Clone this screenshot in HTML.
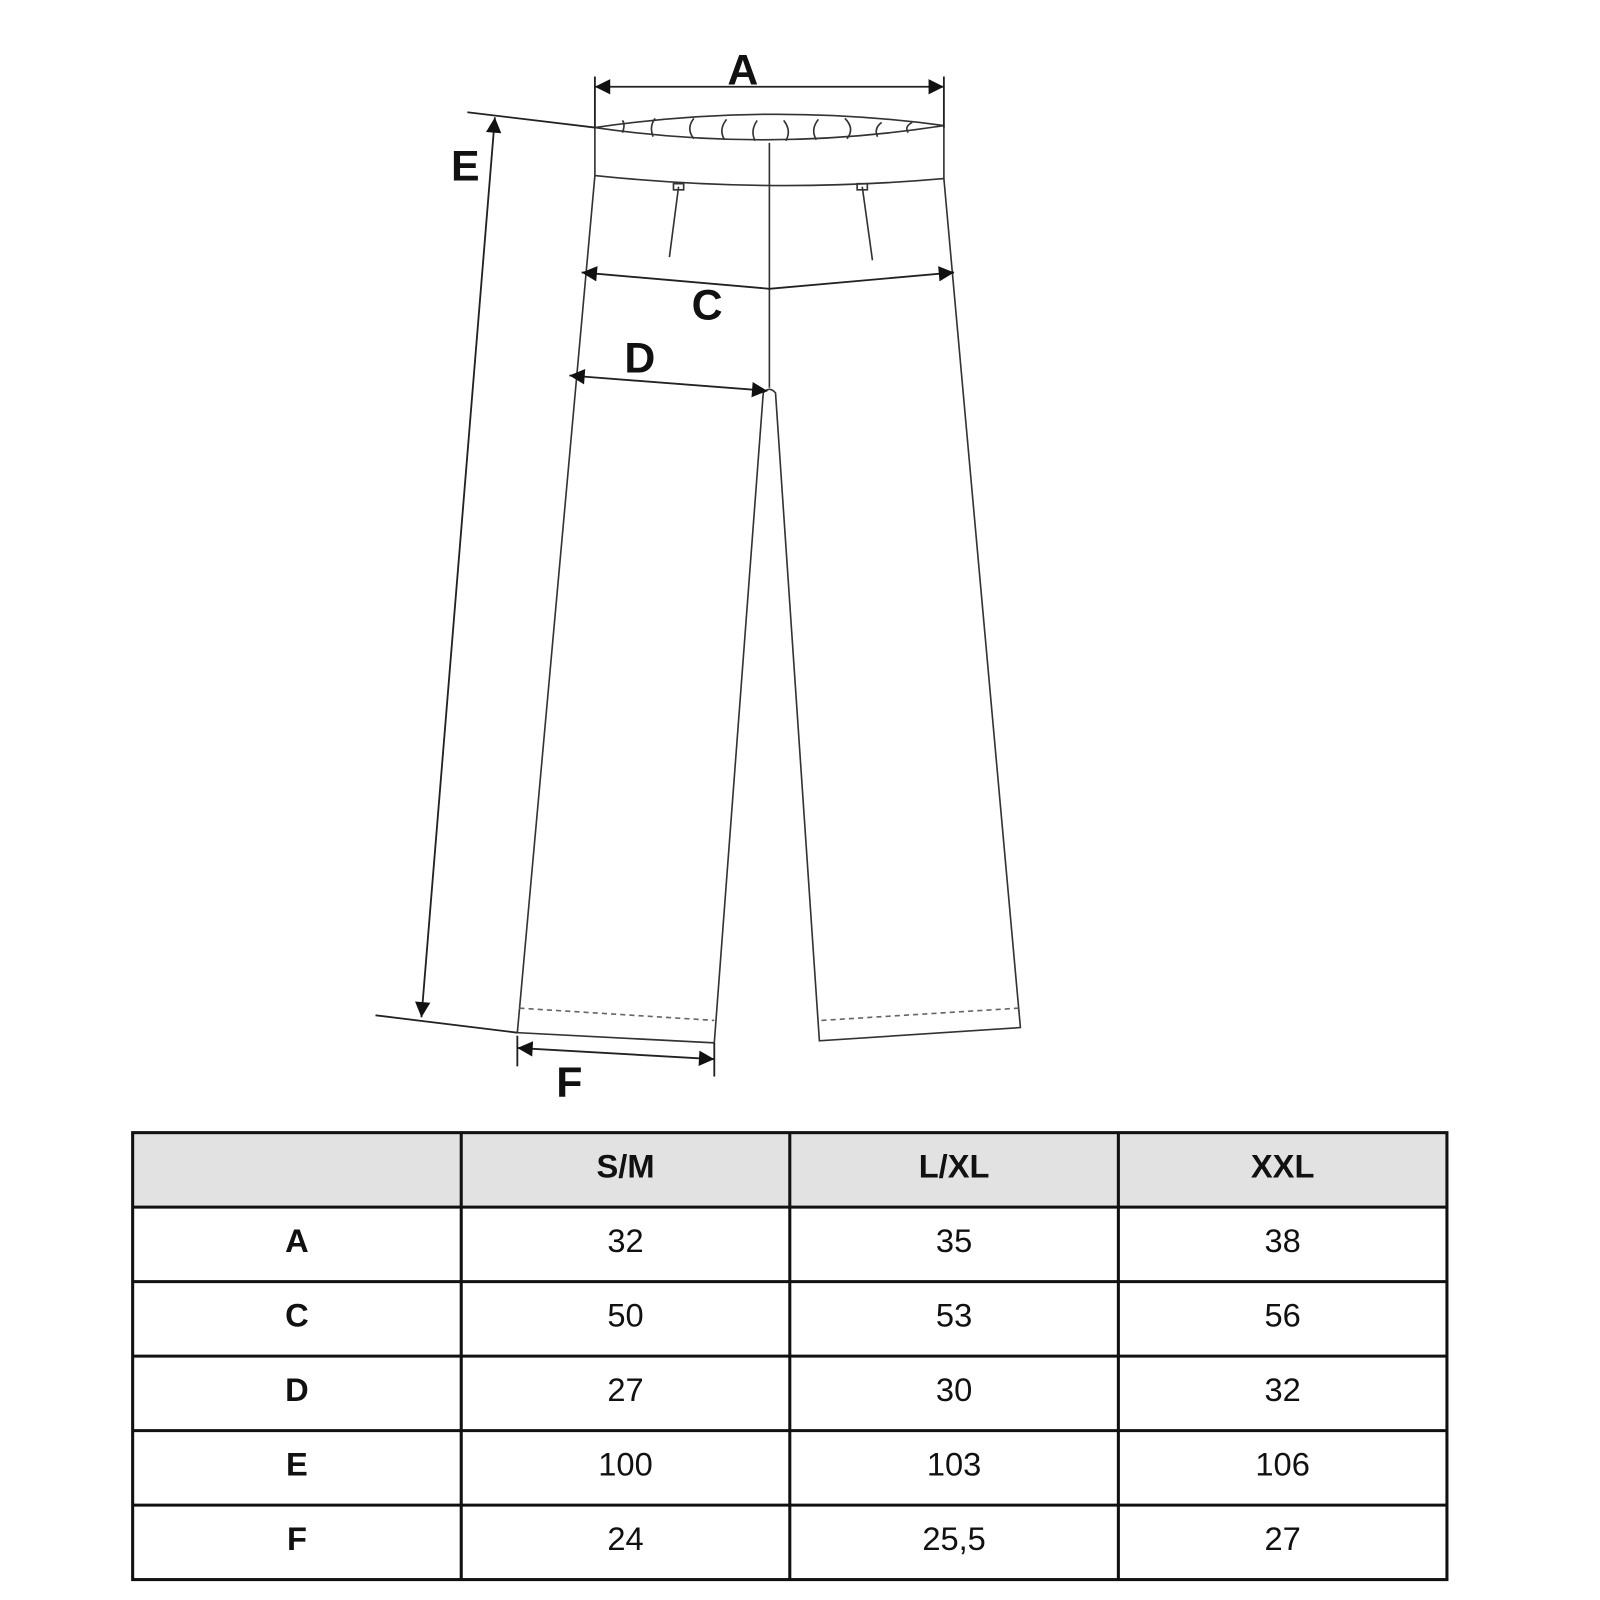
<!DOCTYPE html>
<html><head><style>html,body{margin:0;padding:0;background:#fff}svg{display:block}</style></head>
<body>
<svg width="1600" height="1600" viewBox="0 0 1568 1568" xmlns="http://www.w3.org/2000/svg" font-family="Liberation Sans, Arial, sans-serif">
<defs>
<marker id="ar" viewBox="0 0 10 10" refX="10" refY="5" markerWidth="17" markerHeight="15" markerUnits="userSpaceOnUse" orient="auto-start-reverse"><path d="M0,0L10,5L0,10z" fill="#111"/></marker>
</defs>
<rect width="1568" height="1568" fill="#fff"/>
<g fill="none" stroke="#333" stroke-width="1.6">
<path d="M583,125 Q754,100 925,123 Q754,150 583,125Z"/>
<path d="M583,125 L583,172 Q754,190 925,175 L925,123"/>
<line x1="754" y1="140" x2="754" y2="380"/>
<path d="M583,172 L507,1012 L700,1022 L748,385 Q754,378 760,385 L803,1020 L1000,1007 L925,175"/>
<line x1="665" y1="183" x2="656" y2="252"/>
<line x1="845" y1="183" x2="855" y2="255"/>
<path d="M660,180h10v6h-10z M840,180h10v6h-10z"/>
<path d="M610,130 q3,-8 0,-12 M640,134 q-4,-10 2,-18 M680,136 q-8,-10 0,-20 M710,137 q-6,-10 2,-20 M740,138 q-5,-10 2,-20 M770,138 q6,-10 -2,-20 M800,137 q-6,-10 2,-20 M830,136 q8,-10 -2,-20 M860,134 q-4,-8 4,-14 M890,130 q-4,-6 4,-10"/>
<path d="M509,988 L700,1000 M805,1000 L998,988" stroke-dasharray="5,4" stroke="#666"/>
</g>
<g stroke="#222" stroke-width="1.8" fill="none">
<line x1="583" y1="75" x2="583" y2="125"/><line x1="925" y1="75" x2="925" y2="125"/>
<line x1="583" y1="85" x2="925" y2="85" marker-start="url(#ar)" marker-end="url(#ar)"/>
<line x1="458" y1="110" x2="583" y2="125"/><line x1="368" y1="995" x2="507" y2="1012"/>
<line x1="485" y1="115" x2="413" y2="997" marker-start="url(#ar)" marker-end="url(#ar)"/>
<path d="M570,267 L754,283 L935,267" marker-start="url(#ar)" marker-end="url(#ar)"/>
<line x1="558" y1="368" x2="752" y2="383" marker-start="url(#ar)" marker-end="url(#ar)"/>
<line x1="507" y1="1015" x2="507" y2="1045"/><line x1="700" y1="1022" x2="700" y2="1055"/>
<line x1="507" y1="1027" x2="700" y2="1038" marker-start="url(#ar)" marker-end="url(#ar)"/>
</g>
<g font-weight="bold" font-size="42" fill="#111" text-anchor="middle">
<text x="728" y="83">A</text><text x="456" y="177">E</text><text x="693" y="313">C</text><text x="627" y="365">D</text><text x="558" y="1075">F</text>
</g>
<rect x="130" y="1110" width="1288" height="73" fill="#e2e2e2"/>
<g stroke="#111" stroke-width="3" fill="none">
<rect x="130" y="1110" width="1288" height="438"/>
<path d="M452,1110V1548M774,1110V1548M1096,1110V1548M130,1183H1418M130,1256H1418M130,1329H1418M130,1402H1418M130,1475H1418"/>
</g>
<g font-size="32" text-anchor="middle" fill="#111">
<g font-weight="bold"><text x="613" y="1154">S/M</text><text x="935" y="1154">L/XL</text><text x="1257" y="1154">XXL</text>
<text x="291" y="1227">A</text><text x="291" y="1300">C</text><text x="291" y="1373">D</text><text x="291" y="1446">E</text><text x="291" y="1519">F</text></g>
<text x="613" y="1227">32</text><text x="935" y="1227">35</text><text x="1257" y="1227">38</text>
<text x="613" y="1300">50</text><text x="935" y="1300">53</text><text x="1257" y="1300">56</text>
<text x="613" y="1373">27</text><text x="935" y="1373">30</text><text x="1257" y="1373">32</text>
<text x="613" y="1446">100</text><text x="935" y="1446">103</text><text x="1257" y="1446">106</text>
<text x="613" y="1519">24</text><text x="935" y="1519">25,5</text><text x="1257" y="1519">27</text>
</g>
</svg>
</body></html>
